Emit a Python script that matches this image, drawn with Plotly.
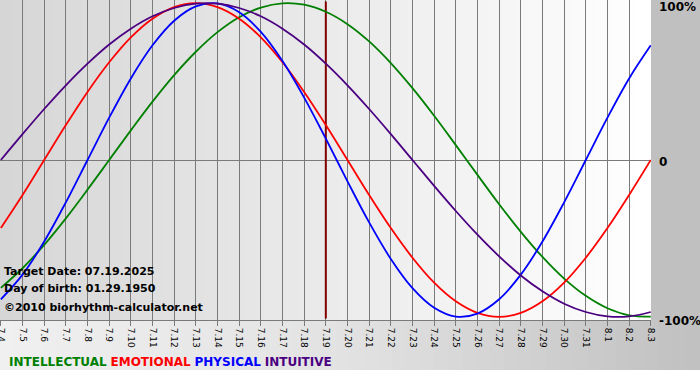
import plotly.graph_objects as go

# ---- data ----
dates = ["7.4", "7.5", "7.6", "7.7", "7.8", "7.9", "7.10", "7.11", "7.12", "7.13",
         "7.14", "7.15", "7.16", "7.17", "7.18", "7.19", "7.20", "7.21", "7.22", "7.23",
         "7.24", "7.25", "7.26", "7.27", "7.28", "7.29", "7.30", "7.31", "8.1", "8.2", "8.3"]

intellectual = [-81.5, -69.0, -54.1, -37.2, -18.9, 0.0, 18.9, 37.2, 54.1, 69.0,
                81.5, 91.0, 97.2, 99.9, 99.0, 94.5, 86.6, 75.6, 61.8, 45.8,
                28.2, 9.5, -9.5, -28.2, -45.8, -61.8, -75.6, -86.6, -94.5, -99.0, -99.9]

emotional = [-43.4, -22.3, 0.0, 22.3, 43.4, 62.3, 78.2, 90.1, 97.5, 100.0,
             97.5, 90.1, 78.2, 62.3, 43.4, 22.3, 0.0, -22.3, -43.4, -62.3,
             -78.2, -90.1, -97.5, -100.0, -97.5, -90.1, -78.2, -62.3, -43.4, -22.3, 0.0]

physical = [-88.8, -73.1, -52.0, -27.0, 0.0, 27.0, 52.0, 73.1, 88.8, 97.9,
            99.8, 94.2, 81.7, 63.1, 39.8, 13.6, -13.6, -39.8, -63.1, -81.7,
            -94.2, -99.8, -97.9, -88.8, -73.1, -52.0, -27.0, 0.0, 27.0, 52.0, 73.1]

intuitive = [0.0, 16.5, 32.5, 47.6, 61.4, 73.6, 83.7, 91.6, 96.9, 99.7,
             99.7, 96.9, 91.6, 83.7, 73.6, 61.4, 47.6, 32.5, 16.5, 0.0,
             -16.5, -32.5, -47.6, -61.4, -73.6, -83.7, -91.6, -96.9, -99.7, -99.7, -96.9]

target_date = "7.19"
target_text = "Target Date: 07.19.2025"
birth_text = "Day of birth: 01.29.1950"
copyright_text = "©2010 biorhythm-calculator.net"
y_labels = ["100%", "0", "-100%"]
y_label_px = [7, 162, 321]

series = [
    ("INTELLECTUAL", intellectual, "#008000"),
    ("EMOTIONAL", emotional, "#ff0000"),
    ("PHYSICAL", physical, "#0000ff"),
    ("INTUITIVE", intuitive, "#4b0082"),
]

# ---- geometry (pixels) ----
W, H = 700, 380
ML, MR, MT, MB = 0, 49, 0, 60
PW, PH = W - ML - MR, H - MT - MB

def px_x(p):
    return (p - ML) / PW

def px_y(p):
    return (H - MB - p) / PH

xs = list(range(len(dates)))
FONT = "DejaVu Sans"

fig = go.Figure()

# target date line
ti = dates.index(target_date)
fig.add_trace(go.Scatter(x=[ti, ti], y=[-101, 101], mode="lines",
                         line=dict(color="#800000", width=2), hoverinfo="skip",
                         showlegend=False))

for name, vals, col in series:
    fig.add_trace(go.Scatter(x=xs, y=vals, mode="lines", name=name,
                             line=dict(color=col, width=1.8, shape="spline", smoothing=1.0),
                             showlegend=False))

shapes = []
# plot-area gradient (left gray -> right white)
N = 48
for i in range(N):
    x0 = i / N
    x1 = (i + 1) / N + 0.002
    t = (i + 0.5) / N
    v = int(round(0xd6 + (0xff - 0xd6) * t))
    c = f"rgb({v},{v},{v})"
    shapes.append(dict(type="rect", xref="paper", yref="paper", x0=x0, x1=x1, y0=0, y1=1,
                       fillcolor=c, line=dict(width=0), layer="below"))
# right strip
shapes.append(dict(type="rect", xref="paper", yref="paper", x0=1, x1=px_x(W), y0=0, y1=1,
                   fillcolor="#c0c0c0", line=dict(width=0), layer="below"))
# bottom band gradient
NB = 50
yb0 = px_y(370)
for i in range(NB):
    p0 = W * i / NB
    p1 = W * (i + 1) / NB + 1
    t = (i + 0.5) / NB
    if t < 0.5:
        v = 0xf0 - (0xf0 - 0xe2) * (t / 0.5)
    else:
        v = 0xe2 - (0xe2 - 0xc0) * ((t - 0.5) / 0.5)
    v = int(round(v))
    c = f"rgb({v},{v},{v})"
    shapes.append(dict(type="rect", xref="paper", yref="paper", x0=px_x(p0), x1=px_x(p1),
                       y0=yb0, y1=0, fillcolor=c, line=dict(width=0), layer="below"))

annotations = []
for txt, yp in [(target_text, 271), (birth_text, 288), (copyright_text, 307)]:
    annotations.append(dict(text=f"<b>{txt}</b>", xref="paper", yref="paper",
                            x=px_x(2), y=px_y(yp), xanchor="left", yanchor="middle",
                            showarrow=False, font=dict(family=FONT, size=11, color="#000000")))

for lab, yp in zip(y_labels, y_label_px):
    annotations.append(dict(text=f"<b>{lab}</b>", xref="paper", yref="paper",
                            x=px_x(657), y=px_y(yp), xanchor="left", yanchor="middle",
                            showarrow=False, font=dict(family=FONT, size=12, color="#000000")))

legend_html = "&nbsp;".join(f"<span style='color:{col}'><b>{name}</b></span>" for name, _, col in series)
annotations.append(dict(text=legend_html, xref="paper", yref="paper",
                        x=px_x(7), y=px_y(362), xanchor="left", yanchor="middle",
                        showarrow=False, font=dict(family=FONT, size=12)))

fig.update_layout(
    width=W, height=H,
    margin=dict(l=ML, r=MR, t=MT, b=MB, pad=0),
    paper_bgcolor="#ffffff",
    plot_bgcolor="rgba(0,0,0,0)",
    shapes=shapes,
    annotations=annotations,
    showlegend=False,
    xaxis=dict(range=[-0.04, len(dates) - 1 + 0.01], tickmode="array", tickvals=xs, ticktext=dates,
               tickangle=90, tickfont=dict(family=FONT, size=9, color="#000000"),
               ticklabeloverflow="allow",
               showgrid=True, gridcolor="#7a7a7a", gridwidth=1,
               ticks="outside", ticklen=5, tickcolor="#7a7a7a", tickwidth=1,
               showline=True, linecolor="#7a7a7a", linewidth=1,
               zeroline=False, fixedrange=True, automargin=False),
    yaxis=dict(range=[-102, 102], showgrid=False, showticklabels=False,
               zeroline=True, zerolinecolor="#7a7a7a", zerolinewidth=1,
               showline=False, fixedrange=True),
)

fig.write_html("out.html", config={"displayModeBar": False},
               post_script="document.body.style.margin='0';document.body.style.overflow='hidden';"
                           "document.documentElement.style.overflow='hidden';")
